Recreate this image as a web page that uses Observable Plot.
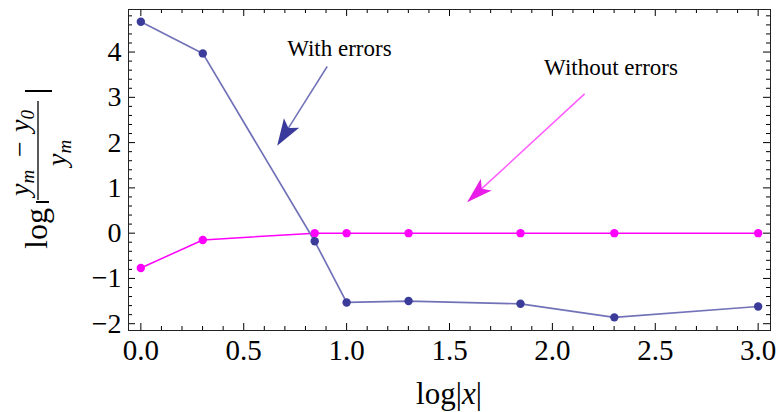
<!DOCTYPE html>
<html><head><meta charset="utf-8">
<script src="https://cdn.jsdelivr.net/npm/d3@7"></script>
<script src="https://cdn.jsdelivr.net/npm/@observablehq/plot@0.6"></script>
<style>
body{margin:0;background:#fff;}
#chart{width:779px;height:412px;}
</style></head><body><div id="chart"></div>
<script>
// ---- data ----
const logX = [0, 0.301, 0.845, 1, 1.301, 1.845, 2.301, 3];
const withErrors = [4.67, 3.97, -0.18, -1.53, -1.50, -1.56, -1.86, -1.62];
const withoutErrors = [-0.77, -0.15, 0, 0, 0, 0, 0, 0];
const xMajor = [0, 0.5, 1, 1.5, 2, 2.5, 3];
const xTickLabels = ["0.0", "0.5", "1.0", "1.5", "2.0", "2.5", "3.0"];
const yMajor = [-2, -1, 0, 1, 2, 3, 4];
const yTickLabels = ["\u22122", "\u22121", "0", "1", "2", "3", "4"];
const seriesNames = ["With errors", "Without errors"];
const labelX = [0.965, 2.285];
const labelY = [4.07, 3.65];
const arrowFromX = [0.908, 2.159];
const arrowFromY = [3.67, 3.066];
const arrowToX = [0.665, 1.588];
const arrowToY = [1.917, 0.672];

const W = 779, H = 412;
const mL = 128, mR = 9, mT = 9, mB = 82;
const iw = W - mL - mR, ih = H - mT - mB;
const blueLine = "#7272b9", blueDot = "#3b3b9a", mag = "#ff00ff";
const serif = "Liberation Serif";

const rowsA = logX.map((x, i) => ({x, y: withErrors[i]}));
const rowsB = logX.map((x, i) => ({x, y: withoutErrors[i]}));
const labels = seriesNames.map((t, i) => ({t, x: labelX[i], y: labelY[i]}));
const xTicks = xMajor.map((v, i) => ({v, t: xTickLabels[i]}));
const yTicks = yMajor.map((v, i) => ({v, t: yTickLabels[i]}));

const xMinor = d3.range(0, 31).map(d => d / 10).filter(d => !xMajor.includes(d));
const yMinor = d3.range(-10, 25).map(d => d / 5).filter(d => !yMajor.includes(d));

const plot = Plot.plot({
  width: W, height: H,
  marginLeft: mL, marginRight: mR, marginTop: mT, marginBottom: mB,
  style: {fontFamily: serif, background: "#fff", color: "#000"},
  x: {domain: [-0.06, 3.06], axis: null},
  y: {domain: [-2.15, 4.94], axis: null},
  marks: [
    // inward frame ticks (all four sides)
    Plot.tickY(yMajor, {y: d => d, insetRight: iw - 7, stroke: "#000"}),
    Plot.tickY(yMinor, {y: d => d, insetRight: iw - 4, stroke: "#000"}),
    Plot.tickY(yMajor, {y: d => d, insetLeft: iw - 7, stroke: "#000"}),
    Plot.tickY(yMinor, {y: d => d, insetLeft: iw - 4, stroke: "#000"}),
    Plot.tickX(xMajor, {x: d => d, insetTop: ih - 7, stroke: "#000"}),
    Plot.tickX(xMinor, {x: d => d, insetTop: ih - 4, stroke: "#000"}),
    Plot.tickX(xMajor, {x: d => d, insetBottom: ih - 7, stroke: "#000"}),
    Plot.tickX(xMinor, {x: d => d, insetBottom: ih - 4, stroke: "#000"}),
    // tick labels
    Plot.text(xTicks, {x: "v", frameAnchor: "bottom", lineAnchor: "top", dy: 9, text: "t",
      fontSize: 29, fontFamily: serif, fill: "#000"}),
    Plot.text(yTicks, {y: "v", frameAnchor: "left", textAnchor: "end", dx: -7, text: "t",
      fontSize: 28, fontFamily: serif, fill: "#000"}),
    // series
    Plot.line(rowsB, {x: "x", y: "y", stroke: mag, strokeWidth: 1.5}),
    Plot.line(rowsA, {x: "x", y: "y", stroke: blueLine, strokeWidth: 1.7}),
    Plot.dot(rowsB, {x: "x", y: "y", r: 4.2, fill: mag}),
    Plot.dot(rowsA, {x: "x", y: "y", r: 4.2, fill: blueDot}),
    // annotation texts
    Plot.text(labels, {x: "x", y: "y", text: "t", fontSize: 23, fontFamily: serif, fill: "#000"}),
    Plot.frame({stroke: "#222", strokeWidth: 1})
  ]
});
document.getElementById("chart").appendChild(plot);

// ---- arrows (shaft + filled head), positioned through the plot's scales ----
const sx = plot.scale("x"), sy = plot.scale("y");
const svg = d3.select(plot);
const arrowStyles = [
  {shaft: "#7070b8", head: "#3a3a9c", L: 27, Wd: 9, N: 6},
  {shaft: "#ff5cff", head: "#e81ee8", L: 26, Wd: 8, N: 6}
];
arrowFromX.forEach((_, i) => {
  const x0 = sx.apply(arrowFromX[i]), y0 = sy.apply(arrowFromY[i]);
  const x1 = sx.apply(arrowToX[i]), y1 = sy.apply(arrowToY[i]);
  const st = arrowStyles[i];
  const len = Math.hypot(x1 - x0, y1 - y0);
  const ux = (x1 - x0) / len, uy = (y1 - y0) / len;
  const nx = -uy, ny = ux;
  svg.append("line").attr("x1", x0).attr("y1", y0)
    .attr("x2", x1 - ux * (st.L - st.N)).attr("y2", y1 - uy * (st.L - st.N))
    .attr("stroke", st.shaft).attr("stroke-width", 1.5);
  const bx = x1 - ux * st.L, by = y1 - uy * st.L;
  const pts = [[x1, y1], [bx + nx * st.Wd, by + ny * st.Wd],
    [x1 - ux * (st.L - st.N), y1 - uy * (st.L - st.N)], [bx - nx * st.Wd, by - ny * st.Wd]];
  svg.append("polygon").attr("points", pts.map(p => p.join(",")).join(" "))
    .attr("fill", st.head);
});

// ---- axis titles ----
const xl = svg.append("text").attr("x", mL + iw / 2).attr("y", 404).attr("font-family", serif)
  .attr("text-anchor", "middle").attr("font-size", 31).attr("fill", "#000");
xl.append("tspan").text("log|");
xl.append("tspan").attr("font-style", "italic").text("x");
xl.append("tspan").text("|");

const g = svg.append("g").attr("transform", "rotate(-90)").attr("font-family", serif)
  .attr("text-anchor", "start").attr("fill", "#000");
g.append("text").attr("x", -249).attr("y", 47).attr("font-size", 32).text("log");
// absolute-value bars and fraction line
g.append("line").attr("x1", -202).attr("x2", -202).attr("y1", 36).attr("y2", 49).attr("stroke", "#000").attr("stroke-width", 2);
g.append("line").attr("x1", -91).attr("x2", -91).attr("y1", 25).attr("y2", 52).attr("stroke", "#000").attr("stroke-width", 2);
g.append("line").attr("x1", -200).attr("x2", -101).attr("y1", 38).attr("y2", 38).attr("stroke", "#000").attr("stroke-width", 1.3);
// numerator y_m - y_0
const num = g.append("text").attr("y", 29).attr("font-size", 28);
num.append("tspan").attr("x", -196).attr("font-style", "italic").text("y");
num.append("tspan").attr("font-style", "italic").attr("font-size", 19).attr("dy", 5).text("m");
num.append("tspan").attr("x", -157).attr("dy", -5).text("\u2212");
num.append("tspan").attr("x", -132).attr("font-style", "italic").text("y");
num.append("tspan").attr("font-size", 19).attr("font-style", "italic").attr("dy", 5).text("0");
// denominator y_m
const den = g.append("text").attr("y", 66).attr("font-size", 28);
den.append("tspan").attr("x", -166).attr("font-style", "italic").text("y");
den.append("tspan").attr("font-style", "italic").attr("font-size", 19).attr("dy", 5).text("m");
</script>
</body></html>
